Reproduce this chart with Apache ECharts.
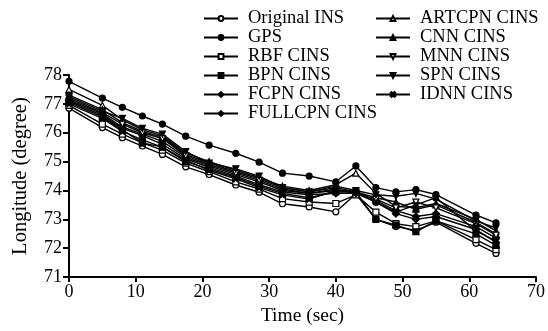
<!DOCTYPE html>
<html>
<head>
<meta charset="utf-8">
<script src="https://cdn.jsdelivr.net/npm/echarts@6/dist/echarts.min.js"></script>
<style>
  html, body { margin: 0; padding: 0; background: #fff; }
  #chart { width: 548px; height: 331px; }
</style>
</head>
<body>
<div id="chart"></div>
<script>
// time stamps (sec)
const times = [0, 5, 8, 11, 14, 17.5, 21, 25, 28.5, 32, 36, 40, 43, 46, 49, 52, 55, 61, 64]

const originalIns = [76.85, 76.18, 75.83, 75.54, 75.25, 74.82, 74.55, 74.19, 73.94, 73.54, 73.43, 73.26, 73.88, 73.0, 72.75, 72.62, 72.9, 72.17, 71.82]
const gps = [77.78, 77.2, 76.88, 76.58, 76.3, 75.88, 75.57, 75.29, 74.98, 74.6, 74.5, 74.3, 74.85, 74.1, 73.95, 74.03, 73.86, 73.15, 72.88]
const rbf = [76.95, 76.3, 75.95, 75.65, 75.4, 74.95, 74.65, 74.3, 74.05, 73.72, 73.6, 73.55, 73.85, 73.25, 72.85, 72.75, 72.95, 72.3, 71.95]
const bpn = [77.05, 76.55, 76.1, 75.65, 75.5, 75.0, 74.75, 74.45, 74.15, 73.9, 73.75, 73.95, 73.95, 73.0, 72.8, 72.57, 72.95, 72.5, 72.1]
const fcpn = [77.1, 76.6, 76.15, 75.9, 75.6, 75.1, 74.8, 74.5, 74.2, 73.95, 73.85, 73.9, 73.9, 73.6, 73.2, 73.0, 73.1, 72.65, 72.2]
const fullcpn = [77.15, 76.65, 76.2, 75.95, 75.7, 75.15, 74.85, 74.55, 74.3, 74.0, 73.9, 74.0, 73.95, 73.65, 73.3, 73.1, 73.2, 72.75, 72.35]
const artcpn = [77.5, 76.95, 76.45, 76.1, 75.9, 75.3, 75.0, 74.7, 74.45, 74.15, 74.0, 74.2, 74.6, 73.9, 73.45, 73.4, 73.55, 73.0, 72.6]
const cnn = [77.3, 76.8, 76.35, 76.05, 75.85, 75.25, 74.95, 74.65, 74.4, 74.1, 73.95, 74.1, 73.95, 73.75, 73.6, 73.35, 73.5, 72.9, 72.5]
const mnn = [77.2, 76.7, 76.3, 76.0, 75.8, 75.2, 74.9, 74.6, 74.35, 74.05, 73.9, 74.05, 73.9, 73.7, 73.4, 73.6, 73.4, 72.85, 72.45]
const spn = [77.25, 76.75, 76.5, 76.15, 75.95, 75.35, 74.95, 74.75, 74.5, 74.1, 73.95, 74.15, 74.0, 73.85, 73.8, 73.9, 73.7, 72.95, 72.7]
const idnn = [77.0, 76.5, 76.05, 75.75, 75.5, 75.05, 74.7, 74.4, 74.1, 73.85, 73.7, 74.0, 73.95, 73.6, 73.25, 73.5, 73.75, 72.6, 72.25]

const xTicks = { min: 0, max: 70, interval: 10 }
const yTicks = { min: 71, max: 78, interval: 1 }

const font = 'Liberation Serif'
const crossPath = 'path://M2,0L5,3L8,0L10,2L7,5L10,8L8,10L5,7L2,10L0,8L3,5L0,2Z'

const makeSeries = (name, values, symbol, open, rotate) => ({
  name,
  type: 'line',
  data: times.map((t, i) => [t, values[i]]),
  symbol,
  symbolSize: symbol === 'diamond' ? 7 : 6,
  symbolRotate: rotate || 0,
  showAllSymbol: true,
  lineStyle: { color: '#000', width: 1.4 },
  itemStyle: {
    color: open ? '#fff' : '#000',
    borderColor: '#000',
    borderWidth: 1.2,
  },
  emphasis: { disabled: true },
  animation: false,
})

const chart = echarts.init(document.getElementById('chart'))

const legendCommon = {
  orient: 'vertical',
  top: 9,
  itemWidth: 34,
  itemHeight: 6,
  itemGap: 0,
  padding: 0,
  textStyle: {
    fontFamily: font,
    fontSize: 18.5,
    color: '#000',
    lineHeight: 18,
    padding: [0, 0, 0, 5],
  },
}

chart.setOption({
  backgroundColor: '#fff',
  grid: { left: 69, right: 8, top: 75, bottom: 52 },
  legend: [
    Object.assign({}, legendCommon, {
      left: 203,
      data: ['Original INS', 'GPS', 'RBF CINS', 'BPN CINS', 'FCPN CINS', 'FULLCPN CINS'],
    }),
    Object.assign({}, legendCommon, {
      left: 375,
      data: ['ARTCPN CINS', 'CNN CINS', 'MNN CINS', 'SPN CINS', 'IDNN CINS'],
    }),
  ],
  xAxis: {
    type: 'value',
    min: xTicks.min,
    max: xTicks.max,
    interval: xTicks.interval,
    name: 'Time (sec)',
    nameLocation: 'middle',
    nameGap: 23,
    nameTextStyle: { fontFamily: font, fontSize: 19.5, color: '#000' },
    axisLine: { lineStyle: { color: '#000', width: 2 } },
    axisTick: { show: true, length: 5, lineStyle: { color: '#000', width: 2 } },
    axisLabel: { fontFamily: font, fontSize: 18, color: '#000', margin: 6 },
    splitLine: { show: false },
  },
  yAxis: {
    type: 'value',
    min: yTicks.min,
    max: yTicks.max,
    interval: yTicks.interval,
    name: 'Longitude (degree)',
    nameLocation: 'middle',
    nameGap: 38,
    nameTextStyle: { fontFamily: font, fontSize: 20.5, color: '#000' },
    axisLine: { show: true, lineStyle: { color: '#000', width: 2 } },
    axisTick: { show: true, length: 6, lineStyle: { color: '#000', width: 2 } },
    axisLabel: { fontFamily: font, fontSize: 18, color: '#000', margin: 7 },
    splitLine: { show: false },
  },
  series: [
    makeSeries('Original INS', originalIns, 'circle', true),
    makeSeries('GPS', gps, 'circle', false),
    makeSeries('RBF CINS', rbf, 'rect', true),
    makeSeries('BPN CINS', bpn, 'rect', false),
    makeSeries('FCPN CINS', fcpn, 'diamond', false),
    makeSeries('FULLCPN CINS', fullcpn, 'diamond', false),
    makeSeries('ARTCPN CINS', artcpn, 'triangle', true),
    makeSeries('CNN CINS', cnn, 'triangle', false),
    makeSeries('MNN CINS', mnn, 'triangle', true, 180),
    makeSeries('SPN CINS', spn, 'triangle', false, 180),
    makeSeries('IDNN CINS', idnn, crossPath, false),
  ],
})
</script>
</body>
</html>
